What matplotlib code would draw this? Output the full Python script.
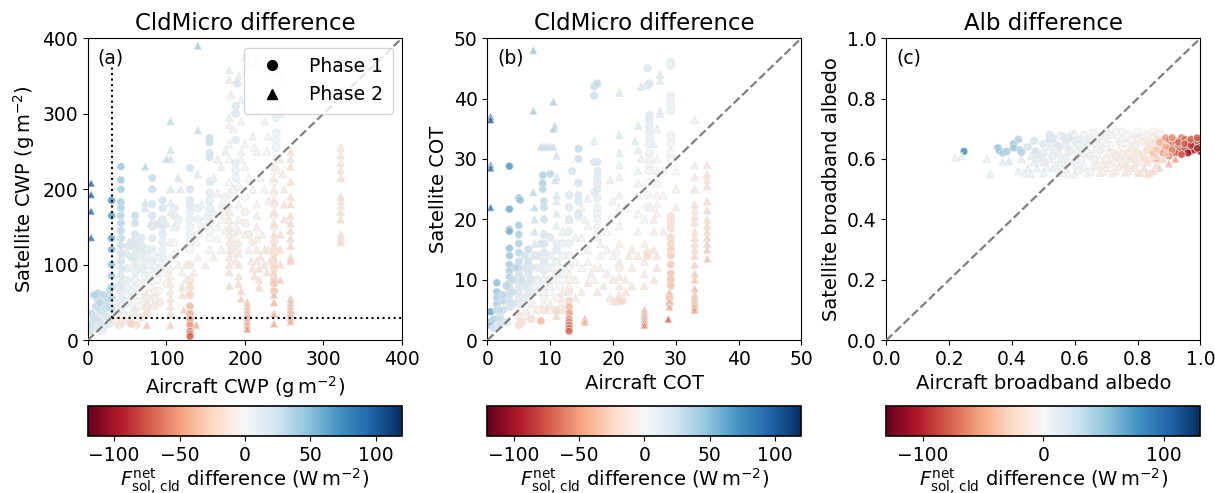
import numpy as np
import matplotlib
matplotlib.use("Agg")
import matplotlib.pyplot as plt
from matplotlib.colors import Normalize
from matplotlib.cm import ScalarMappable
from matplotlib.lines import Line2D

# (aircraft, satellite, flux difference W m-2) for each sample
cwp_phase1 = [
    (3, 12, 25), (5, 20, 28), (5, 35, 30), (8, 28, 30), (10, 45, 32), (12, 55, 35), (13, 62, 38),
    (15, 40, 30), (15, 25, 25), (18, 50, 32), (20, 35, 25), (20, 18, 18), (22, 42, 28), (25, 55, 35),
    (25, 30, 22), (28, 65, 35), (8, 60, 38), (12, 15, 20), (18, 12, 12), (27, 22, 15),
    (30, 185, 70), (30, 165, 65), (30, 135, 60), (30, 120, 55), (30, 100, 50), (30, 85, 45),
    (30, 70, 45), (30, 55, 40), (30, 42, 35),
    (42, 230, 45), (42, 212, 42), (42, 200, 40), (42, 183, 40), (42, 175, 38), (42, 165, 36),
    (42, 155, 35), (42, 145, 33), (42, 135, 30), (42, 125, 28), (42, 115, 27), (42, 105, 25),
    (42, 95, 22), (42, 85, 20), (42, 75, 18), (42, 65, 15), (42, 55, 12), (42, 45, 8), (38, 35, 5),
    (40, 20, -20),
    (50, 95, 15), (50, 80, 12), (50, 70, 10), (50, 60, 8), (50, 50, 5), (55, 22, -30),
    (60, 165, 30), (60, 155, 28), (60, 140, 25), (60, 130, 22), (60, 120, 20), (60, 110, 18),
    (60, 100, 15), (60, 90, 12), (60, 80, 10), (60, 70, 8), (60, 60, 5), (60, 50, 0), (60, 40, -10),
    (68, 135, 20), (68, 125, 18), (68, 115, 15), (70, 105, 12), (70, 95, 10), (72, 85, 5),
    (72, 75, 0), (72, 65, -5), (72, 55, -10), (75, 45, -15), (75, 35, -20),
    (82, 215, 30), (82, 200, 28), (82, 180, 25), (82, 165, 22), (82, 150, 20), (82, 135, 18),
    (82, 120, 15), (82, 105, 12), (82, 90, 8), (82, 78, 2), (85, 65, -5), (85, 55, -10), (85, 45, -15),
    (95, 185, 25), (95, 175, 22), (95, 160, 20), (95, 150, 18), (95, 140, 15), (95, 130, 12),
    (95, 120, 10), (95, 110, 8), (95, 100, 5),
    (110, 175, 15), (110, 165, 12), (115, 160, 10), (112, 150, 8),
    (130, 228, 25), (130, 200, 22), (130, 185, 18), (130, 178, 15), (130, 170, 12), (130, 160, 10),
    (130, 150, 8), (130, 140, 5), (130, 130, 2), (130, 120, 0), (130, 100, -15), (130, 80, -20),
    (130, 70, -25), (130, 60, -30), (130, 45, -40), (130, 35, -45), (130, 28, -50), (130, 20, -55),
    (130, 12, -60), (130, 8, -65), (130, 5, -70),
    (140, 175, 10), (140, 160, 8), (145, 150, 5), (140, 140, 3),
    (155, 268, 30), (155, 262, 28), (155, 248, 25), (155, 242, 24), (155, 210, 18), (155, 195, 15),
    (155, 185, 12), (155, 175, 10), (155, 165, 8), (155, 155, 5), (155, 145, 3), (155, 135, 0),
    (190, 340, 25), (188, 310, 20), (188, 300, 18), (188, 265, 15), (188, 235, 12), (188, 225, 10),
    (188, 215, 8), (188, 200, 5), (185, 150, 0), (185, 140, -5), (190, 120, -8),
    (200, 190, 0), (200, 170, -5), (200, 155, -8), (205, 140, -10), (210, 130, -12),
    (240, 295, 10), (240, 275, 8), (240, 265, 6), (240, 255, 4), (240, 240, 2), (240, 225, 0),
    (237, 210, -5), (237, 195, -8), (237, 180, -10), (237, 165, -12), (237, 150, -15), (237, 130, -18),
    (237, 115, -20), (237, 100, -25), (237, 95, -28), (237, 80, -30), (237, 75, -32), (237, 65, -35),
    (175, 190, 5), (175, 175, 2), (175, 165, 0),
    (35, 30, 0), (35, 50, 10), (38, 70, 15), (45, 40, 5), (48, 30, -5), (52, 40, 0), (55, 110, 20),
    (55, 130, 22), (58, 35, -5), (63, 95, 12), (65, 75, 5), (65, 60, 0), (65, 45, -5), (68, 30, -15),
    (75, 120, 15), (75, 110, 12), (78, 100, 10), (78, 85, 5), (78, 70, 0), (78, 55, -8),
    (88, 110, 10), (88, 95, 5), (88, 80, 0), (90, 65, -5), (92, 50, -10), (100, 90, 0),
    (100, 75, -5), (48, 115, 20), (52, 125, 22), (35, 25, -10), (45, 25, -15), (62, 20, -20),
    (20, 60, 35), (15, 50, 33), (10, 30, 25), (25, 45, 30),
]

cwp_phase2 = [
    (4, 208, 95), (4, 193, 95), (4, 171, 90), (4, 136, 85),
    (73, 230, 35), (73, 175, 25), (73, 182, 28),
    (80, 155, 22), (84, 155, 20), (88, 155, 20), (92, 155, 18), (96, 155, 16), (100, 155, 14),
    (70, 95, 10), (75, 80, 0), (75, 60, -10), (75, 45, -15), (75, 20, -35),
    (105, 290, 30), (105, 252, 25), (105, 240, 22), (105, 200, 18), (105, 182, 15), (105, 170, 12),
    (110, 150, 8), (105, 130, 5), (105, 110, 0), (105, 95, -5), (105, 85, -10), (105, 75, -12),
    (105, 65, -15), (105, 55, -18), (105, 45, -20), (105, 35, -25), (105, 20, -30),
    (100, 240, 30), (115, 215, 20), (118, 200, 18),
    (140, 390, 40), (140, 278, 30), (140, 220, 15), (138, 130, 0), (140, 110, -5), (135, 90, -8),
    (138, 20, -45),
    (160, 215, 10), (165, 150, 2), (165, 135, 0), (170, 120, -5),
    (180, 358, 15), (180, 345, 12), (182, 325, 10), (180, 295, 8), (180, 285, 5), (180, 260, 3),
    (180, 240, 2), (180, 210, 0), (180, 195, -2), (180, 180, -5), (180, 170, -8), (180, 160, -10),
    (180, 150, -12), (180, 140, -12), (180, 130, -15), (180, 120, -15), (180, 110, -18),
    (180, 100, -20), (180, 90, -20), (180, 72, -25),
    (192, 350, 12), (195, 318, 10), (195, 290, 8), (195, 250, 5), (195, 240, 3), (192, 205, 0),
    (192, 180, -5), (192, 160, -8), (192, 145, -10), (192, 130, -12), (192, 115, -15), (192, 100, -18),
    (192, 85, -20), (192, 75, -22), (195, 65, -28), (195, 55, -30),
    (203, 50, -38), (203, 45, -40), (203, 40, -42), (203, 35, -45), (203, 30, -48), (203, 25, -50),
    (203, 20, -52), (203, 15, -55),
    (210, 270, 5), (212, 255, 3), (215, 250, 3), (215, 180, -5), (215, 165, -8), (215, 150, -10),
    (215, 135, -12), (215, 120, -15), (215, 105, -18), (218, 95, -20), (218, 80, -22), (218, 70, -25),
    (225, 120, -15), (230, 120, -15), (222, 140, -12), (225, 290, 5), (228, 250, 3),
    (200, 375, 8), (205, 365, 6), (215, 370, 8), (235, 360, 5), (243, 355, 5), (248, 345, 3),
    (245, 300, 2), (242, 310, 3),
    (237, 230, -10), (237, 215, -12), (237, 200, -15), (237, 185, -18), (237, 170, -20),
    (237, 155, -22), (237, 140, -24), (237, 125, -26), (237, 110, -28), (237, 90, -30),
    (237, 60, -38), (237, 50, -40), (237, 35, -42), (237, 22, -45),
    (258, 250, -20), (258, 240, -20), (258, 230, -22), (258, 210, -22), (258, 190, -24),
    (258, 180, -24), (258, 165, -25), (258, 155, -26), (258, 145, -27), (258, 135, -28),
    (258, 125, -28), (258, 110, -30), (258, 105, -32), (258, 55, -40), (258, 50, -40),
    (258, 45, -42), (258, 40, -42), (258, 35, -44), (258, 30, -45), (258, 25, -46),
    (322, 255, -18), (322, 245, -18), (322, 235, -18), (322, 225, -20), (322, 215, -20),
    (322, 190, -22), (322, 185, -22), (322, 178, -22), (322, 170, -24), (322, 160, -24),
    (322, 140, -25), (322, 135, -25), (322, 130, -26),
    (120, 70, -20), (120, 60, -22), (122, 40, -30), (125, 100, -10), (150, 100, -8),
    (155, 120, -5), (160, 110, -8),
    (110, 130, 0), (110, 115, -2), (115, 100, -5), (120, 90, -8), (125, 80, -12), (145, 180, 8),
    (150, 165, 5), (160, 170, 5), (165, 195, 8), (170, 180, 3), (170, 160, 0), (175, 145, -5),
    (185, 135, -8), (185, 125, -10), (185, 115, -12), (188, 105, -15), (200, 140, -10),
    (205, 120, -12), (208, 105, -15), (210, 95, -18), (212, 85, -20), (220, 110, -18),
    (225, 100, -20), (228, 90, -22), (232, 105, -20), (245, 240, -10), (248, 220, -12),
    (250, 200, -15), (250, 180, -18), (250, 160, -20), (245, 140, -22), (245, 120, -24),
    (245, 100, -26), (245, 80, -30), (200, 230, 3), (205, 215, 0), (210, 200, -3), (220, 215, -2),
    (225, 200, -5), (230, 185, -8), (165, 240, 10), (170, 230, 8), (175, 250, 10), (185, 280, 8),
    (230, 270, 3), (235, 330, 5), (185, 200, -2), (200, 260, 5), (90, 110, 5), (95, 90, 0),
    (85, 100, 8),
]

cot_phase1 = [
    (0.5, 4.7, 60), (0.5, 3.0, 50), (0.5, 2.5, 45), (1.5, 9.5, 50), (1.5, 8, 45), (1.5, 7, 40),
    (1.5, 6, 38), (1.5, 5, 35), (2, 4, 30), (2.5, 6.5, 35), (2.5, 5, 30), (3, 3, 25), (2, 3.5, 28),
    (1, 2, 25),
    (3.5, 28.8, 70), (3.5, 21.7, 60), (3.5, 18.3, 55), (3.5, 18, 55), (3.5, 15.2, 48), (3.5, 14, 45),
    (3.5, 12.5, 42), (3.5, 11.5, 40), (3.5, 10.5, 38), (3.5, 9.5, 35), (3.5, 8.5, 32), (3.5, 7.5, 30),
    (3.5, 6.5, 28), (3.5, 5.5, 25),
    (5, 23.5, 50), (5.2, 23.2, 48), (5, 19, 42), (5, 17.5, 40), (5, 16, 38), (5, 14.5, 35),
    (5, 13, 32), (5, 12, 30), (5, 11, 28), (5, 10, 25), (5, 9, 22), (5, 8, 20), (5, 7, 18),
    (5, 6, 15), (5, 2.5, -25), (5.5, 3, -20), (5, 4, -15),
    (6.5, 15, 30), (6.5, 13, 28), (6.5, 11, 25), (6.5, 9.5, 20), (6.5, 8, 15), (7, 6, 5), (7, 5, 0),
    (8.8, 27.3, 40), (8.8, 26, 38), (8.8, 25, 35), (9, 23, 32), (9, 22, 30), (9, 20, 28),
    (9, 17.5, 25), (9, 16, 22), (9, 14.5, 20), (9, 13, 18), (9, 11.5, 15), (9, 10, 10), (9, 9, 5),
    (9, 7, -5), (9, 5.5, -15), (9, 5, -18), (8.5, 3.2, -40), (10, 27.5, 35), (10, 17, 20),
    (11, 15, 15), (11, 13, 12), (11, 11, 8), (11.5, 9, 0), (11.5, 7, -10), (11, 5, -20),
    (13.5, 28, 25), (13, 24, 20), (13, 22, 18), (13, 20, 15), (13, 18, 12), (13, 16, 10),
    (13, 14, 5), (13, 12, 2), (13, 10, -5), (13, 8, -15), (13, 6.5, -30), (13, 5.5, -40),
    (13, 4.5, -50), (13, 3.5, -55), (13, 3, -58), (13, 2.5, -62), (13, 2, -65), (13, 1.5, -70),
    (14.5, 31.7, 30), (14.5, 30, 28), (14.5, 26, 25), (14.5, 24, 22), (14.5, 23, 20),
    (14.5, 21, 18), (14.5, 20.5, 16),
    (17, 42, 30), (17.5, 42.5, 30), (17, 40.5, 28), (17, 29.5, 22), (17.5, 29.5, 22),
    (17.5, 28, 20), (17.5, 27, 18), (17.5, 26, 16), (17.5, 25, 15), (17, 24.5, 15),
    (17.5, 23.5, 12), (17.5, 22, 10), (17.5, 21, 8), (17.5, 20, 6), (17.5, 18.5, 5), (17.5, 17, 3),
    (25.5, 45, 20), (25.8, 42.5, 18), (25.5, 42.2, 18), (25.8, 37.2, 15), (25.8, 36.5, 15),
    (25.8, 35.5, 14), (25.8, 34.5, 12), (25.8, 33.5, 10), (25.8, 32.5, 8), (25.8, 31, 6),
    (25.8, 30, 5), (25.8, 29, 4), (25.8, 28, 2), (25.5, 26, 0), (25.5, 24, -2), (25.5, 22, -5),
    (25.5, 14.5, -20), (25.5, 14, -22),
    (29.2, 46, 12), (29.2, 45.5, 10), (29.2, 40.5, 8), (29.2, 40, 8), (29.2, 39, 6), (29.2, 38, 5),
    (29.2, 34, 4), (29.2, 33.5, 3), (29.2, 32.5, 2), (29.2, 31, 0), (29.2, 30, -2),
    (29.2, 20.5, -20), (29.2, 19.5, -22), (29.2, 18.5, -24), (29.2, 17, -26), (29.2, 16, -28),
    (29.2, 15, -30), (29.2, 14, -30), (29.2, 12.5, -32), (29.2, 11, -34), (29.2, 10, -35),
    (29.2, 9, -36), (29, 7, -38), (29, 6, -40),
    (6, 12, 25), (7, 10, 20), (7.5, 14, 18), (8, 12, 15), (8, 8, 5), (10, 10, 5), (10, 12, 8),
    (10, 8, 0), (12, 12, 5), (12, 10, 0), (12, 14, 8), (11, 16, 12),
    (20.5, 14.5, -5), (21, 12, -10), (21, 6.5, -25), (21.5, 6.5, -25), (20.5, 6.3, -22),
    (2, 5, 30), (2.5, 7.5, 35), (3, 9, 35), (4, 6, 25), (4, 8, 28), (4, 10, 30), (4.5, 12, 35),
    (5.5, 10, 25), (6, 7, 15), (6, 9, 20), (6, 14, 28), (7, 12, 22), (7, 8, 12), (7.5, 9, 10),
    (8, 10, 12), (8, 14, 18), (8.5, 16, 22), (9.5, 12, 10), (10, 14, 12), (10.5, 10, 5),
    (11, 7, -5), (12, 6, -10), (12, 16, 10), (6, 4, -10), (7, 3.5, -20), (8, 5, -10),
    (1, 3.5, 35), (2, 2.5, 25),
]

cot_phase2 = [
    (0.5, 37, 95), (0.5, 36.5, 95), (0.5, 29, 90), (0.5, 28.5, 88), (0.5, 22, 85),
    (7.3, 48, 45), (7.3, 38, 40), (10.5, 39.5, 40), (10.7, 35.5, 35), (10.5, 35, 35),
    (8.5, 32, 32), (9, 32, 30), (9.5, 32, 30), (10, 32, 28), (10.5, 32, 28),
    (11, 30.5, 25), (11, 27, 22), (10.8, 26.5, 22), (11, 24, 20), (11, 23, 18), (11, 21, 15),
    (11, 19, 12), (11, 15, 8), (11, 13, 5),
    (7.3, 24.5, 35), (7.5, 22, 30), (7.5, 20, 28), (7.5, 18, 25), (7.5, 16, 22), (7.3, 14, 18),
    (15.5, 3.5, -45), (15.5, 3, -45), (11, 5, -25), (11, 4, -30), (12, 8, -10),
    (16, 23.5, 10), (15.5, 20, 5), (16, 19, 3), (15, 17, 0), (16, 15, -2), (16.5, 11, -10),
    (16, 9.5, -15), (17, 33, 15), (17.5, 8, -15),
    (19.5, 26.5, 10), (19.5, 20, 5), (20, 23, 8), (21, 41, 20), (21, 34, 15), (21, 31, 12),
    (21, 29, 10), (21, 27, 8), (21, 24, 5), (21, 22, 3), (21, 19, 0), (21, 16, -5), (21, 13, -10),
    (21, 10.5, -15), (21, 9, -18), (21, 7.5, -20), (22, 22, 0), (22.5, 14, -10), (23, 12, -12),
    (19, 11, -10), (18.5, 9, -12), (19.5, 7, -15), (20, 6.5, -18),
    (23.5, 33, 15), (24, 35.5, 15), (24.5, 42, 20), (24, 31.5, 12), (24.5, 30, 10), (24, 28, 8),
    (24, 26, 5), (24, 24, 2), (24, 21, 0), (24, 18, -5), (25, 16, -8), (25, 13, -12), (25, 11, -15),
    (25, 9, -18), (25, 5, -45), (25, 4.5, -48), (25, 4, -50), (25, 3.5, -52), (25, 3, -55),
    (25, 2.5, -58),
    (27.5, 44, 15), (27.5, 43, 15), (27.5, 38, 12), (27.5, 37.5, 12), (27, 35, 10), (26.5, 32.5, 8),
    (27, 30, 5), (27, 28, 2), (27, 26, 0), (27, 24, -2), (27, 22.5, -5), (27, 21, -8),
    (26.5, 20, -10), (26.5, 18, -12), (26.5, 15, -15), (27, 14, -18), (27, 12, -20), (26.5, 10, -22),
    (28.8, 3.5, -70), (29, 8, -35), (29, 6.5, -40), (29, 5.5, -45),
    (33, 36.5, 5), (33, 29, -10), (33, 27, -12), (33, 25, -15), (33, 22.5, -18), (33, 21.5, -18),
    (33, 20.5, -20), (33, 19.5, -20), (33, 18, -22), (33, 17, -24), (33, 16, -25), (33, 15, -26),
    (33, 14, -28), (33, 12.5, -30), (33, 11, -32), (33, 10, -35), (33, 8.5, -40), (33, 7.5, -42),
    (33, 7, -44), (33, 6.5, -45), (33, 6, -46), (33, 5.5, -48), (33, 5, -50),
    (35, 29, -20), (35, 27.5, -22), (35, 26.5, -22), (35, 25.5, -24), (35, 23, -26),
    (35, 21.5, -26), (35, 20, -27), (35, 19, -28), (35, 18, -28), (35, 17, -30), (35, 16, -30),
    (35, 15, -32), (35, 13.5, -35),
    (8, 10, 5), (9, 6, -5), (10, 9, 0), (12, 11, 0), (13, 9, -8), (14, 7, -12), (15, 12, -2),
    (18, 14, -5), (17, 12, -5), (19, 15, -3), (6, 5, -5),
    (10, 6, -10), (12, 5, -20), (13, 11, -5), (14, 13, 0), (14, 10, -8), (15, 8, -12), (16, 13, -5),
    (17, 10, -8), (18, 16, -3), (18, 12, -6), (19, 18, 0), (20, 10, -12), (20, 14, -6),
    (22, 10, -15), (22, 8, -18), (23, 15, -10), (23, 9, -15), (24, 14, -12), (25, 20, -5),
    (26, 22, -3), (28, 18, -12), (28, 24, -3), (28, 28, 2), (30, 25, -5), (30, 22, -10),
    (30, 28, 0), (12, 18, 8), (13, 20, 10), (14, 17, 5), (15, 22, 8), (9, 8, 2), (10, 5, -12),
]

alb_phase1 = [
    (0.247, 0.625, 80), (0.355, 0.637, 55), (0.36, 0.627, 50), (0.37, 0.62, 45), (0.383, 0.625, 45),
    (0.405, 0.65, 50), (0.405, 0.637, 48), (0.42, 0.665, 40), (0.425, 0.63, 42), (0.43, 0.622, 40),
    (0.475, 0.625, 30), (0.52, 0.665, 25), (0.53, 0.67, 25), (0.54, 0.65, 22), (0.55, 0.64, 20),
    (0.56, 0.675, 20), (0.58, 0.67, 18), (0.6, 0.66, 15), (0.62, 0.665, 12), (0.65, 0.66, 10),
    (0.68, 0.67, 8), (0.7, 0.675, 5), (0.72, 0.68, 3), (0.74, 0.66, 0), (0.76, 0.65, -2),
    (0.78, 0.665, -5), (0.8, 0.68, -8), (0.82, 0.66, -12), (0.84, 0.65, -18), (0.86, 0.665, -25),
    (0.87, 0.64, -30), (0.88, 0.66, -35), (0.89, 0.67, -60), (0.9, 0.665, -65), (0.91, 0.65, -70),
    (0.92, 0.66, -72), (0.93, 0.64, -75), (0.93, 0.625, -80), (0.94, 0.67, -70), (0.95, 0.665, -75),
    (0.95, 0.635, -85), (0.96, 0.655, -90), (0.97, 0.625, -95), (0.98, 0.63, -100),
    (0.98, 0.645, -90), (0.99, 0.66, -85), (1.0, 0.64, -100), (1.0, 0.625, -105), (0.96, 0.62, -110),
    (0.92, 0.62, -80), (0.9, 0.635, -70), (0.88, 0.62, -55), (0.87, 0.655, -45), (0.86, 0.6, -50),
    (0.85, 0.62, -40), (0.83, 0.63, -25), (0.8, 0.62, -20), (0.78, 0.6, -20), (0.76, 0.58, -22),
    (0.74, 0.6, -15), (0.72, 0.62, -10), (0.7, 0.6, -10), (0.68, 0.63, -5), (0.66, 0.6, -5),
    (0.64, 0.62, 0), (0.62, 0.6, 2), (0.6, 0.58, 3), (0.58, 0.62, 8), (0.56, 0.6, 8),
    (0.54, 0.63, 12), (0.5, 0.62, 15), (0.48, 0.6, 15), (0.66, 0.685, 5), (0.7, 0.69, 5),
    (0.75, 0.69, 2), (0.8, 0.69, 0), (0.85, 0.69, -3), (0.87, 0.685, -5), (0.63, 0.68, 8),
    (0.5, 0.65, 20), (0.52, 0.68, 22), (0.57, 0.66, 18), (0.59, 0.68, 15), (0.61, 0.645, 12),
    (0.63, 0.66, 10), (0.67, 0.645, 5), (0.69, 0.66, 5), (0.71, 0.645, 2), (0.73, 0.69, 3),
    (0.75, 0.655, 0), (0.77, 0.68, -2), (0.79, 0.64, -8), (0.81, 0.655, -10), (0.83, 0.68, -8),
    (0.85, 0.64, -20), (0.89, 0.64, -50), (0.91, 0.63, -65), (0.93, 0.655, -75), (0.95, 0.65, -80),
    (0.97, 0.645, -95), (0.99, 0.635, -100), (0.94, 0.615, -85), (0.9, 0.61, -60),
    (0.97, 0.665, -80), (0.99, 0.67, -80), (0.91, 0.67, -60), (0.86, 0.63, -35), (0.82, 0.6, -25),
    (0.77, 0.62, -15), (0.73, 0.61, -12), (0.69, 0.58, -10), (0.65, 0.61, -2), (0.61, 0.62, 5),
    (0.57, 0.6, 10), (0.53, 0.61, 12), (0.45, 0.64, 25), (0.47, 0.66, 25),
]

alb_phase2 = [
    (0.22, 0.605, 8), (0.24, 0.61, 8), (0.32, 0.6, 10), (0.33, 0.55, 12), (0.37, 0.59, 15),
    (0.39, 0.593, 20), (0.45, 0.57, 10), (0.44, 0.552, 10), (0.46, 0.61, 15), (0.48, 0.618, 18),
    (0.5, 0.59, 12), (0.5, 0.555, 8), (0.52, 0.6, 10), (0.53, 0.57, 8), (0.55, 0.555, 5),
    (0.55, 0.59, 8), (0.57, 0.575, 5), (0.58, 0.64, 12), (0.6, 0.55, 3), (0.6, 0.6, 5),
    (0.62, 0.57, 2), (0.62, 0.63, 8), (0.64, 0.555, 0), (0.64, 0.655, 10), (0.66, 0.58, -2),
    (0.66, 0.62, 0), (0.68, 0.555, -3), (0.68, 0.6, -3), (0.7, 0.57, -5), (0.7, 0.64, 2),
    (0.72, 0.555, -8), (0.72, 0.59, -8), (0.74, 0.575, -10), (0.74, 0.63, -5), (0.76, 0.555, -12),
    (0.76, 0.6, -12), (0.78, 0.57, -15), (0.78, 0.64, -8), (0.8, 0.555, -18), (0.8, 0.59, -18),
    (0.82, 0.57, -22), (0.82, 0.62, -15), (0.84, 0.555, -25), (0.84, 0.6, -25), (0.86, 0.58, -28),
    (0.88, 0.6, -30), (0.9, 0.585, -45), (0.92, 0.6, -55), (0.55, 0.68, 5), (0.6, 0.685, 3),
    (0.65, 0.67, 5), (0.7, 0.655, 0), (0.75, 0.67, -2), (0.8, 0.67, -5), (0.85, 0.675, -8),
    (0.57, 0.65, 10), (0.52, 0.64, 12),
    (0.46, 0.55, 10), (0.48, 0.57, 12), (0.51, 0.575, 10), (0.54, 0.58, 8), (0.56, 0.565, 5),
    (0.58, 0.55, 3), (0.59, 0.59, 5), (0.61, 0.565, 2), (0.63, 0.58, 0), (0.65, 0.56, -2),
    (0.67, 0.575, -3), (0.69, 0.56, -5), (0.71, 0.585, -6), (0.73, 0.56, -10), (0.75, 0.59, -10),
    (0.77, 0.56, -14), (0.79, 0.58, -16), (0.81, 0.555, -20), (0.83, 0.59, -22), (0.85, 0.56, -28),
    (0.87, 0.57, -30), (0.83, 0.55, -25), (0.86, 0.61, -30), (0.89, 0.62, -40), (0.71, 0.62, -5),
    (0.75, 0.625, -8), (0.79, 0.615, -12), (0.67, 0.64, 2), (0.63, 0.62, 5), (0.59, 0.63, 8),
    (0.55, 0.62, 10), (0.5, 0.605, 12), (0.42, 0.56, 10), (0.43, 0.6, 15), (0.47, 0.59, 12),
]

cbar_label = r"$F_{\mathrm{sol,\,cld}}^{\mathrm{net}}$ difference ($\mathrm{W\,m^{-2}}$)"
cmap = plt.get_cmap("RdBu")

fig = plt.figure(figsize=(12.15, 4.93), dpi=100)


def draw_panel(left, phase1, phase2, lim, vmax, title, xlabel, ylabel, tag, cticks):
    ax = fig.add_axes([left, 0.310, 0.2584, 0.6126])
    norm = Normalize(-vmax, vmax)
    for data, marker in ((phase1, "o"), (phase2, "^")):
        arr = np.array(data, dtype=float)
        ax.scatter(arr[:, 0], arr[:, 1], c=arr[:, 2], cmap=cmap, norm=norm, marker=marker,
                   s=30, edgecolors="#e6e6e6", linewidths=0.6, alpha=0.85)
    ax.plot([0, lim], [0, lim], ls="--", color="gray", lw=1.6, zorder=3)
    ax.set_xlim(0, lim)
    ax.set_ylim(0, lim)
    ax.set_title(title, fontsize=16.5)
    ax.set_xlabel(xlabel, fontsize=14)
    ax.set_ylabel(ylabel, fontsize=14)
    ax.tick_params(labelsize=13.5)
    ax.text(0.03, 0.965, tag, transform=ax.transAxes, ha="left", va="top", fontsize=13.5)

    cax = fig.add_axes([left, 0.116, 0.2584, 0.061])
    cb = fig.colorbar(ScalarMappable(norm=norm, cmap=cmap), cax=cax, orientation="horizontal")
    cb.set_ticks(cticks)
    cb.ax.tick_params(labelsize=13.5)
    cb.outline.set_linewidth(1.2)
    cb.set_label(cbar_label, fontsize=14, labelpad=2)
    return ax


ax_a = draw_panel(0.0724, cwp_phase1, cwp_phase2, 400, 120, "CldMicro difference",
                  r"Aircraft CWP ($\mathrm{g\,m^{-2}}$)", r"Satellite CWP ($\mathrm{g\,m^{-2}}$)",
                  "(a)", [-100, -50, 0, 50, 100])
ax_a.set_xticks([0, 100, 200, 300, 400])
ax_a.set_yticks([0, 100, 200, 300, 400])
ax_a.plot([30, 30], [30, 362], ls=":", color="black", lw=1.5, zorder=4)
ax_a.plot([30, 400], [30, 30], ls=":", color="black", lw=1.5, zorder=4)
handles = [Line2D([], [], ls="none", marker="o", color="black", markersize=7),
           Line2D([], [], ls="none", marker="^", color="black", markersize=7)]
ax_a.legend(handles, ["Phase 1", "Phase 2"], loc="upper right", fontsize=13.5,
            handletextpad=1.0, borderpad=0.5)

ax_b = draw_panel(0.4012, cot_phase1, cot_phase2, 50, 120, "CldMicro difference",
                  "Aircraft COT", "Satellite COT", "(b)", [-100, -50, 0, 50, 100])

ax_c = draw_panel(0.7296, alb_phase1, alb_phase2, 1.0, 130, "Alb difference",
                  "Aircraft broadband albedo", "Satellite broadband albedo", "(c)", [-100, 0, 100])
ax_c.set_xticks([0, 0.2, 0.4, 0.6, 0.8, 1.0])
ax_c.set_yticks([0, 0.2, 0.4, 0.6, 0.8, 1.0])

fig.savefig("out.png", dpi=100)
